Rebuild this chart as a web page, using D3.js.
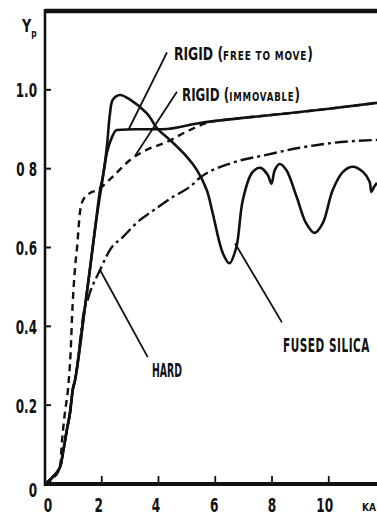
<!DOCTYPE html>
<html>
<head>
<meta charset="utf-8">
<script src="https://cdn.jsdelivr.net/npm/d3@7"></script>
<style>
  html, body { margin: 0; padding: 0; background: #fff; }
  svg { display: block; }
  text { font-family: "DejaVu Sans", "Liberation Sans", sans-serif; font-weight: bold; fill: #111; }
</style>
</head>
<body>
<svg id="chart" width="377" height="517"></svg>
<script>
// Yield Yp versus current (kA) for different wall materials
const xTicks = [0, 2, 4, 6, 8, 10];
const xLabelShift = [3, -3, -2.5, -1, 0, -4];
const yTicks = [0, 0.2, 0.4, 0.6, 0.8, 1.0];
const yTickLabels = ["0", "0.2", "0.4", "0.6", "0 8", "1.0"];

// RIGID (free to move): solid, flat shelf at 0.9 then slowly rising
const freeKa = [0, 0.28, 0.53, 0.63, 0.77, 0.88, 0.98, 1.06, 1.41, 1.58, 1.76, 2.0, 2.18, 2.36, 2.53, 3.2, 4.15, 5.46, 6.5, 8.5, 10.0, 11.7];
const freeYp = [0, 0.018, 0.043, 0.078, 0.137, 0.18, 0.24, 0.264, 0.45, 0.543, 0.645, 0.76, 0.84, 0.88, 0.898, 0.9, 0.9, 0.916, 0.925, 0.94, 0.952, 0.967];

// RIGID (immovable): dashed
const immovKa = [0, 0.3, 0.53, 0.6, 0.7, 0.81, 0.9, 0.97, 1.06, 1.13, 1.23, 1.34, 1.58, 1.83, 2.39, 3.0, 3.59, 4.3, 5.1, 5.8, 6.5, 8.5, 10.0, 11.7];
const immovYp = [0, 0.015, 0.043, 0.11, 0.18, 0.24, 0.33, 0.45, 0.55, 0.6, 0.688, 0.72, 0.738, 0.745, 0.78, 0.822, 0.848, 0.868, 0.898, 0.918, 0.925, 0.94, 0.952, 0.967];

// HARD: dash-dot, shares the solid rise below ~0.45
const hardKa = [0, 0.28, 0.53, 0.63, 0.77, 0.88, 0.98, 1.06, 1.41, 1.48, 1.58, 1.94, 2.29, 2.75, 3.35, 3.7, 4.5, 5.1, 5.46, 6.6, 7.8, 8.98, 10.1, 11.7];
const hardYp = [0, 0.018, 0.043, 0.078, 0.137, 0.18, 0.24, 0.264, 0.45, 0.462, 0.485, 0.543, 0.594, 0.627, 0.67, 0.688, 0.728, 0.754, 0.777, 0.815, 0.835, 0.853, 0.865, 0.873];

// FUSED SILICA: solid, peak near 2.6 kA then oscillating
const fusedKa = [0, 0.28, 0.53, 0.63, 0.77, 0.88, 0.98, 1.06, 1.41, 1.58, 1.76, 1.94, 2.04, 2.18, 2.29, 2.39, 2.64, 3.0, 3.59, 3.98, 4.4, 5.0, 5.35, 5.7, 5.9, 6.27, 6.5, 6.74, 6.97, 7.3, 7.6, 7.85, 7.98, 8.1, 8.27, 8.5, 8.87, 9.2, 9.5, 9.79, 10.14, 10.5, 10.85, 11.2, 11.44, 11.5, 11.6, 11.7];
const fusedYp = [0, 0.018, 0.043, 0.078, 0.137, 0.18, 0.24, 0.264, 0.45, 0.543, 0.645, 0.746, 0.78, 0.855, 0.94, 0.975, 0.987, 0.975, 0.94, 0.9, 0.873, 0.83, 0.797, 0.746, 0.69, 0.585, 0.56, 0.6, 0.72, 0.79, 0.802, 0.784, 0.762, 0.797, 0.812, 0.797, 0.728, 0.662, 0.637, 0.662, 0.746, 0.792, 0.805, 0.792, 0.767, 0.741, 0.754, 0.764];

const svg = d3.select("#chart");
const x = d3.scaleLinear().domain([0, 11.7]).range([45, 377]);
const y = d3.scaleLinear().domain([0, 1.2]).range([484, 11]);

// Condensed lettering: draw the text, then squeeze it horizontally
// either by a fixed factor or to a given overall width.
function condensed(px, py, opts, build) {
  const g = svg.append("g");
  const t = g.append("text").attr("font-size", opts.size)
    .attr("text-anchor", opts.anchor || "start");
  build(t);
  const w = t.node().getComputedTextLength();
  const sx = opts.width ? opts.width / w : (opts.factor || 0.62);
  g.attr("transform", `translate(${px},${py}) scale(${sx},1)`);
  return g;
}

// frame: left axis, top border, bottom axis
svg.append("line").attr("x1", x(0)).attr("x2", x(0)).attr("y1", y(1.2) - 2).attr("y2", y(0) + 2)
  .attr("stroke", "#111").attr("stroke-width", 2.6);
svg.append("line").attr("x1", x(0)).attr("x2", x(11.7)).attr("y1", y(1.2)).attr("y2", y(1.2))
  .attr("stroke", "#111").attr("stroke-width", 4.5);
svg.append("line").attr("x1", x(0)).attr("x2", x(11.7)).attr("y1", y(0)).attr("y2", y(0))
  .attr("stroke", "#111").attr("stroke-width", 4);

// y ticks (inward) and labels
svg.append("g").selectAll("line").data(yTicks.slice(1)).join("line")
  .attr("x1", x(0)).attr("x2", x(0) + 6).attr("y1", d => y(d)).attr("y2", d => y(d))
  .attr("stroke", "#111").attr("stroke-width", 2);
yTicks.forEach((d, i) => {
  condensed(37, y(d) + (i === 0 ? 13 : 7.5), { size: 20, anchor: "end", factor: 0.6 },
    t => t.text(yTickLabels[i]));
});

// x ticks (inward) and labels
svg.append("g").selectAll("line").data(xTicks.slice(1)).join("line")
  .attr("x1", d => x(d)).attr("x2", d => x(d)).attr("y1", y(0)).attr("y2", y(0) - 8)
  .attr("stroke", "#111").attr("stroke-width", 1.8);
xTicks.forEach((d, i) => {
  condensed(x(d) + xLabelShift[i], 512, { size: 19, anchor: "middle", factor: 0.64 },
    t => t.text(d));
});
condensed(362, 511, { size: 11, width: 14 }, t => t.text("KA"));

// y axis title Yp
condensed(22, 32, { size: 17, factor: 0.75 }, t => {
  t.append("tspan").text("Y");
  t.append("tspan").attr("font-size", 10).attr("dy", 5).text("p");
});

// curves
const lineOf = (ka, yp, curve) => d3.line()
  .x(i => x(ka[i])).y(i => y(yp[i])).curve(curve)(d3.range(ka.length));

const series = [
  { ka: hardKa, yp: hardYp, dash: "13,4,3,4", curve: d3.curveMonotoneX, w: 2.4 },
  { ka: immovKa, yp: immovYp, dash: "7,5", curve: d3.curveMonotoneX, w: 2.4 },
  { ka: freeKa, yp: freeYp, dash: null, curve: d3.curveMonotoneX, w: 2.6 },
  { ka: fusedKa, yp: fusedYp, dash: null, curve: d3.curveCatmullRom.alpha(0.5), w: 2.6 }
];
svg.append("g").selectAll("path").data(series).join("path")
  .attr("d", s => lineOf(s.ka, s.yp, s.curve))
  .attr("fill", "none").attr("stroke", "#111")
  .attr("stroke-width", s => s.w)
  .attr("stroke-linejoin", "round")
  .attr("stroke-dasharray", s => s.dash);

// leader lines to the labels (anchored on curve points in data units)
const leaders = [
  { from: [2.95, 0.9], to: [4.3, 1.095] },
  { from: [3.17, 0.832], to: [4.65, 0.995] },
  { from: [1.94, 0.543], to: [3.62, 0.322] },
  { from: [6.7, 0.61], to: [8.35, 0.41] }
];
svg.append("g").selectAll("line").data(leaders).join("line")
  .attr("x1", d => x(d.from[0])).attr("y1", d => y(d.from[1]))
  .attr("x2", d => x(d.to[0])).attr("y2", d => y(d.to[1]))
  .attr("stroke", "#111").attr("stroke-width", 1.8);

// curve labels: capitals with a small-caps qualifier in brackets
function rigidLabel(px, py, qualifier, width) {
  condensed(px, py, { size: 18, width }, t => {
    t.append("tspan").text("RIGID");
    t.append("tspan").text(" (");
    t.append("tspan").attr("font-size", 13).attr("letter-spacing", 1.2).text(qualifier);
    t.append("tspan").text(")");
  });
}
rigidLabel(174, 60, "FREE TO MOVE", 139);
rigidLabel(182, 101, "IMMOVABLE", 118);

condensed(152, 377, { size: 20, width: 30 }, t => t.text("HARD"));
condensed(283, 352, { size: 20, width: 87 }, t => t.attr("letter-spacing", 1).text("FUSED SILICA"));
</script>
</body>
</html>
